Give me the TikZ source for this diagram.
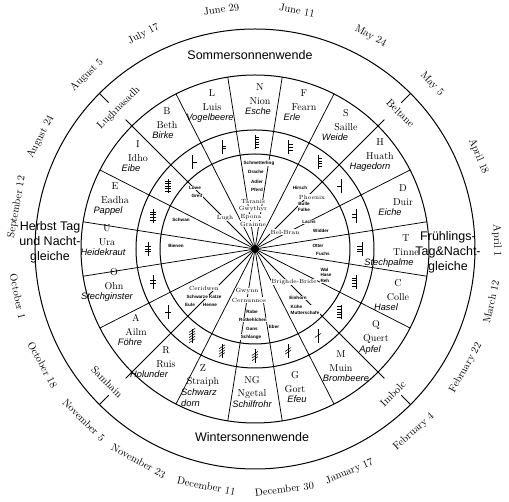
\documentclass[tikz,border=0pt]{standalone}
\usepackage{fontspec}
\newfontfamily\arial{Liberation Sans}
\usetikzlibrary{calc}

\begin{document}
\begin{tikzpicture}[x=1pt,y=1pt,
  ring/.style={line width=1pt},
  spoke/.style={line width=0.75pt},
  stroke/.style={line width=0.55pt},
  datelbl/.style={font=\fontsize{10.5}{12}\selectfont},
  seasonlbl/.style={font=\arial\fontsize{12.5}{15}\selectfont, align=center},
  ltrlbl/.style={font=\fontsize{10}{12}\selectfont, inner sep=0.5pt},
  treelbl/.style={font=\arial\itshape\fontsize{9.3}{11}\selectfont, align=left, inner sep=0.5pt, anchor=north},
  beast/.style={font=\arial\bfseries\fontsize{4.6}{5.5}\selectfont, inner sep=0.4pt, align=left, fill=white},
  deity/.style={font=\fontsize{6}{7}\selectfont, inner sep=0.4pt, fill=white},
]
\path[use as bounding box] (-255,-253) rectangle (254,249);

% rings
\foreach \r in {220,174,119,95}
  \draw[ring] (0,0) circle (\r pt);

% borders of the twenty months
\foreach \b in {117,99,81,63,27,9,-9,-27,-63,-81,-99,-117,-153,-171,171,153}
  \draw[spoke] (0,0) -- (\b:174);
% the four feast days
\foreach \b in {135,45,-45,-135}{
  \draw[spoke] (0,0) -- (\b:183);
  \draw[spoke] (\b:207) -- (\b:220);
}
\fill (0,0) circle (3.5pt);

% dates
\foreach \a/\txt [count=\i] in {98/June 29, 80/June 11, 61.5/May 24, 43/May 5,
    22.5/April 18, 2/April 1, 170/September 12, 152.4/August 24,
    134/August 5, 117.4/July 17}
  \node[datelbl, rotate=\a-90] (top\i) at (\a:242) {\txt};
\foreach \a/\txt [count=\i] in {-12.6/March 12, -29.4/February 22, -49/February 4,
    -67/January 17, -83/December 30, -101.6/December 11, -118.8/November 23,
    -135/November 5, -151.4/October 18, -168.7/October 1}
  \node[datelbl, rotate=\a+90] (bot\i) at (\a:242) {\txt};

% feasts
\node[datelbl, rotate=45]  (lughnasadh) at (134:196) {Lughnasadh};
\node[datelbl, rotate=-45] (beltane)    at (43:199)  {Beltane};
\node[datelbl, rotate=45]  (imbolc)     at (-46.4:200) {Imbolc};
\node[datelbl, rotate=-45] (samhain)    at (222:199) {Samhain};

% seasons
\node[seasonlbl] (sommer) at (-5,194) {Sommersonnenwende};
\node[seasonlbl] (winter) at (-3,-188) {Wintersonnenwende};
\node[seasonlbl] (herbst) at (-205,7) {Herbst Tag\\und Nacht-\\gleiche};
\node[seasonlbl] (fruehling) at (193,-3) {Frühlings-\\Tag\&Nacht-\\gleiche};

% letters, names and trees
\foreach \id/\x/\y/\l/\n/\t/\dx in {
    b/-88/124/B/Beth/Birke/-4, l/-43/142/L/Luis/Vogelbeere/-2,
    n/5/148/N/Nion/Esche/-2, f/49/142/F/Fearn/Erle/-12,
    s/91/122/S/Saille/Weide/-11, h/125/93/H/Huath/Hagedorn/-10,
    d/148/47/D/Duir/Eiche/-13, t/151/-3/T/Tinne/Stechpalme/-17,
    c/143/-48/C/Colle/Hasel/-12, q/121/-90/Q/Quert/Apfel/-6,
    m/86/-119/M/Muin/Brombeere/5, g/40/-140/G/Gort/Efeu/2,
    ng/-3/-145/NG/Ngetal/Schilfrohr/0, z/-52/-133/Z/Straiph/{Schwarz\\dorn}/-4,
    r/-89/-115/R/Ruis/Holunder/-17, a/-119/-83/A/Ailm/Föhre/-6,
    o/-141/-37/O/Ohn/Stechginster/-7, u/-148/7/U/Ura/Heidekraut/-4,
    e/-140/49/E/Eadha/Pappel/-7, i/-117/91/I/Idho/Eibe/-7}{
  \node[ltrlbl] (\id) at (\x,\y) {\n};
  \node[ltrlbl] (\id-l) at (\x,\y+14) {\l};
  \node[treelbl] (\id-t) at (\x+\dx,\y-6) {\t};
}

% ogham signs
\foreach \a/\n/\xa/\ya/\xb/\yb in {
    126/1/0/0/4.5/0, 108/2/0/0/4.5/0, 90/5/0/0/4.5/0, 72/3/0/0/4.5/0, 54/4/0/0/4.5/0,
    36/1/-4.5/0/0/0, 18/2/-4.5/0/0/0, 0/3/-4.5/0/0/0, -18/4/-4.5/0/0/0, -36/5/-4.5/0/0/0,
    -54/1/-3/-2/3/2, -72/2/-3/-2/3/2, -90/3/-3/-2/3/2, -108/4/-3/-2/3/2, -126/5/-3/-2/3/2,
    -144/1/-3/0/3/0, -162/2/-3/0/3/0, -180/3/-3/0/3/0, -198/4/-3/0/3/0, -216/5/-3/0/3/0}{
  \begin{scope}[shift={(\a:107)}]
    \draw[stroke] (0,-7) -- (0,7);
    \foreach \k in {1,...,\n}{
      \pgfmathsetmacro\yy{((\n+1)/2-\k)*2.6}
      \draw[stroke] (\xa,\yy+\ya) -- (\xb,\yy+\yb);
    }
  \end{scope}
}

% animals and gods in the middle
\node[beast] (falter) at (4,86) {Schmetterling};
\node[beast] (drache) at (1,77) {Drache};
\node[beast] (adler) at (2,67) {Adler};
\node[beast] (pferd) at (2,59) {Pferd};
\node[deity] (taranis) at (-2,47) {Taranis};
\node[deity] (gwythyr) at (-2,40) {Gwythyr};
\node[deity] (epona) at (-4,32) {Epona};
\node[deity] (grainne) at (-2,25) {Grainne};
\node[beast] (loewe) at (-60,61) {Löwe};
\node[beast] (greif) at (-58,53) {Greif};
\node[deity] (lugh) at (-30,31) {Lugh};
\node[beast] (schwan) at (-74,29) {Schwan};
\node[beast] (bienen) at (-79,3) {Bienen};
\node[deity] (ceridwen) at (-51,-39) {Ceridwen};
\node[beast] (katze) at (-51,-48) {Schwarze Katze};
\node[beast] (eule) at (-65,-56) {Eule};
\node[beast] (henne) at (-45,-56) {Henne};
\node[deity] (gwynn) at (-8,-42) {Gwynn};
\node[deity] (cernunnos) at (-6,-51) {Cernunnos};
\node[beast] (rabe) at (-3,-63) {Rabe};
\node[beast] (rotkehlchen) at (-2,-71) {Rotkehlchen};
\node[beast] (gans) at (-3,-80) {Gans};
\node[beast] (schlange) at (-4,-88) {Schlange};
\node[beast] (eber) at (19,-78) {Eber};
\node[beast] (einhorn) at (43,-49) {Einhorn};
\node[beast] (kuehe) at (50,-61) {Kühe\\Mutterschafe};
\node[deity] (brighde) at (39,-33) {Brighde-Bride};
\node[beast] (wal) at (71,-26) {Wal\\Hase\\Reh};
\node[beast] (otter) at (63,3) {Otter};
\node[beast] (fuchs) at (68,-5) {Fuchs};
\node[beast] (widder) at (66,18) {Widder};
\node[beast] (lachs) at (54,27) {Lachs};
\node[deity] (belbran) at (30,17) {Bel-Bran};
\node[beast, align=center] (bulle) at (49,42) {Bulle\\Falke};
\node[deity] (phoenix) at (57,52) {Phoenix};
\node[beast] (hirsch) at (45,61) {Hirsch};
\end{tikzpicture}
\end{document}
